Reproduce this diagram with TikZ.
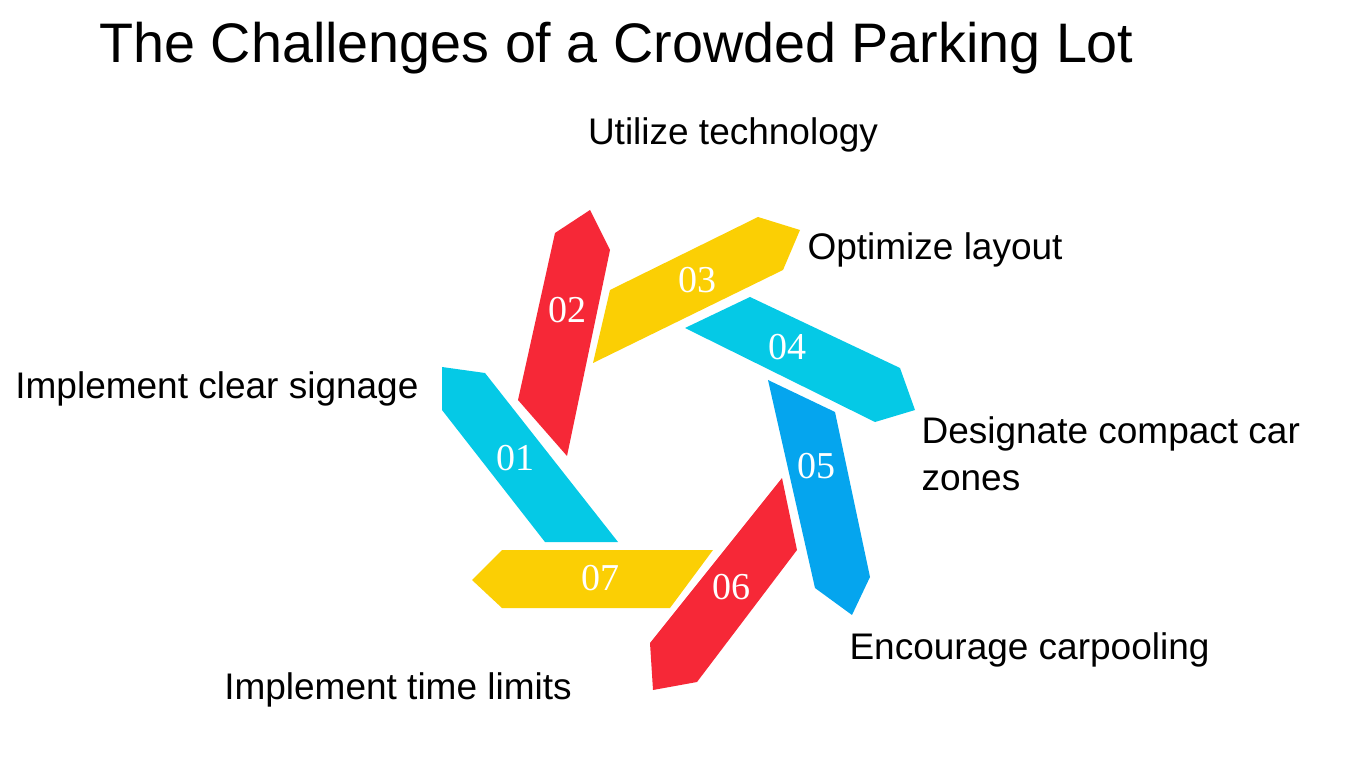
\documentclass[tikz,border=0pt]{standalone}
\usepackage{fontspec}
\setmainfont{Liberation Sans}
\newfontfamily\numfont{Liberation Serif}
\definecolor{bladered}{HTML}{F62837}
\definecolor{bladeyellow}{HTML}{FBCF04}
\definecolor{bladecyan}{HTML}{05C9E6}
\definecolor{bladeblue}{HTML}{05A5EE}
\tikzset{
  num/.style={text=white, font=\numfont\fontsize{38}{40}\selectfont},
  lbl/.style={text=black, font=\fontsize{37}{47}\selectfont},
}
\begin{document}
\begin{tikzpicture}[x=1pt, y=-1pt]
\useasboundingbox (0,0) rectangle (1350,759);
\node[font=\fontsize{55.7}{60}\selectfont, anchor=west] (title) at (96,48) {The Challenges of a Crowded Parking Lot};
% blades
\fill[bladecyan] (442,367) -- (485,373) -- (618,542) -- (545,542) -- (442,410) -- cycle;
\fill[bladered] (555,233) -- (590,210) -- (610,250) -- (567,456) -- (518,400) -- cycle;
\fill[bladeyellow] (610,290) -- (758,217) -- (800,230) -- (783,270) -- (593,363) -- cycle;
\fill[bladecyan] (685,328) -- (750,297) -- (900,368) -- (915,410) -- (875,422) -- cycle;
\fill[bladeblue] (768,380) -- (835,412) -- (870,577) -- (852,615) -- (815,588) -- cycle;
\fill[bladered] (782,478) -- (797,550) -- (697,682) -- (653,690) -- (650,643) -- cycle;
\fill[bladeyellow] (713,550) -- (670,608) -- (502,608) -- (472,580) -- (502,550) -- cycle;
% numbers
\node[num] (n01) at (515,458) {01};
\node[num] (n02) at (567,310) {02};
\node[num] (n03) at (697,280) {03};
\node[num] (n04) at (787,347) {04};
\node[num] (n05) at (816,466) {05};
\node[num] (n06) at (731,587) {06};
\node[num] (n07) at (600,578) {07};
% labels
\node[lbl] (tech) at (733,135) {Utilize technology};
\node[lbl, anchor=west] (layout) at (804,250) {Optimize layout};
\node[lbl, anchor=east] (signage) at (422,389) {Implement clear signage};
\node[lbl, anchor=west, align=left] (compact) at (918,454) {Designate compact car\\zones};
\node[lbl, anchor=west] (carpool) at (846,650) {Encourage carpooling};
\node[lbl] (limits) at (398,690) {Implement time limits};
\end{tikzpicture}
\end{document}
